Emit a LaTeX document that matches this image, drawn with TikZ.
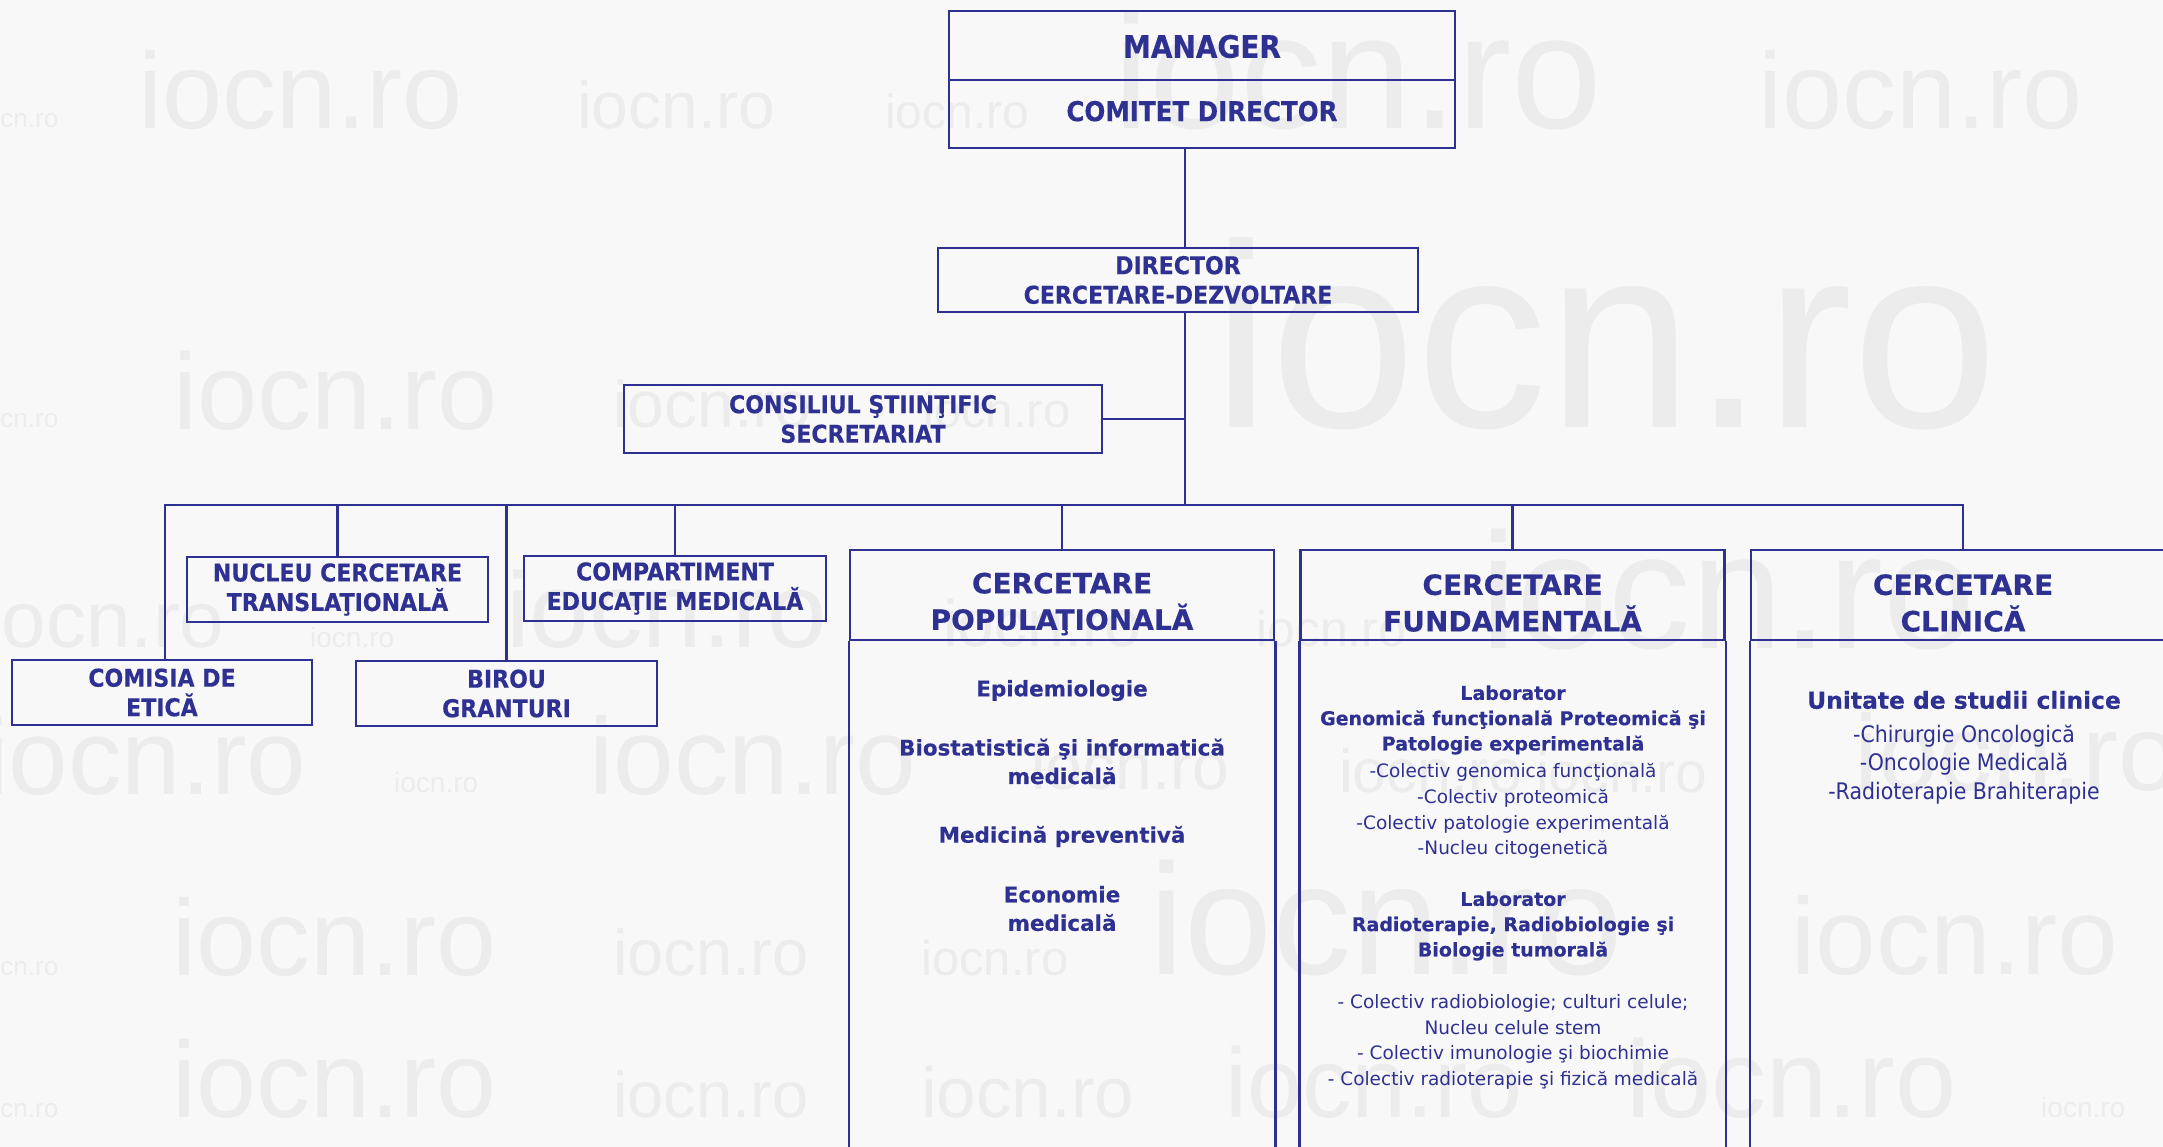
\documentclass[tikz,border=0pt]{standalone}
\usepackage{fontspec}
\setmainfont{DejaVu Sans}[BoldFeatures={FakeBold=0.3}]
\newfontfamily\tah[FakeStretch=0.9]{DejaVu Sans}
\newfontfamily\tahb[FakeStretch=0.9,BoldFeatures={FakeBold=0.4}]{DejaVu Sans}
\newfontfamily\wmf{Liberation Sans}
\definecolor{ocol}{RGB}{46,49,146}
\definecolor{bgc}{RGB}{248,248,248}
\definecolor{wmc}{RGB}{236,236,236}
\begin{document}
\begin{tikzpicture}[x=1pt,y=-1pt,
  ln/.style={draw=ocol, line width=2.5pt, line join=miter},
  sbox/.style={draw=ocol, line width=2.5pt, text=ocol, align=center, inner sep=0pt,
    font=\tahb\bfseries\fontsize{24.5}{29.5}\selectfont},
  hbox/.style={draw=ocol, line width=2.5pt, minimum width=424pt, minimum height=90pt, inner sep=0pt},
  htxt/.style={text=ocol, align=center, inner sep=0pt, font=\bfseries\fontsize{28}{36.5}\selectfont},
  ptxt/.style={text=ocol, align=center, inner sep=0pt, font=\bfseries\fontsize{21.5}{28.5}\selectfont},
  fbold/.style={text=ocol, align=center, inner sep=0pt, font=\bfseries\fontsize{19}{25.3}\selectfont},
  freg/.style={text=ocol, align=center, inner sep=0pt, font=\fontsize{18.5}{25.7}\selectfont},
  wmk/.style={text=wmc, anchor=base west, inner sep=0pt}]
\useasboundingbox (0,0) rectangle (2163,1147);
\fill[bgc] (0,0) rectangle (2163,1147);
% watermarks
\foreach \x/\y/\s [count=\i] in {
  -20/128/26, 138/129/108, 577/129/66, 885/129/48, 1113/129/163, 1758/129/108,
  -20/428/26, 173/429/108, 613/428/66, 923/428/49, 1212/428/262,
  -16/647/80, 310/647/28, 506/647/107, 943/646/66, 1256/646/50, 1480/648/165,
  -15/794/107, 394/792/28, 589/794/109, 1031/789/66, 1339/792/61, 1536/792/57, 1854/790/108,
  -20/975/26, 172/975/108, 613/975/65, 921/975/49, 1149/974/158, 1791/974/109,
  -20/1117/26, 172/1117/108, 613/1117/65, 921/1117/71, 1225/1117/99, 1626/1117/110, 2041/1117/28}
  {\node[wmk, font=\wmf\fontsize{\s}{\s}\selectfont] (wm\i) at (\x,\y) {iocn.ro};}
% top boxes
\node[sbox, minimum width=506pt, minimum height=69pt, text height=25pt, font=\tahb\bfseries\fontsize{31}{31}\selectfont] (mgr) at (1202,45.5) {MANAGER};
\node[sbox, minimum width=506pt, minimum height=68pt, text depth=6pt, font=\tahb\bfseries\fontsize{27.3}{27.3}\selectfont] (com) at (1202,114) {COMITET DIRECTOR};
\node[sbox, minimum width=480pt, minimum height=64pt] (dir) at (1178,280) {DIRECTOR\\CERCETARE-DEZVOLTARE};
\node[sbox, minimum width=478pt, minimum height=68pt] (cons) at (863,419) {CONSILIUL ŞTIINŢIFIC\\SECRETARIAT};
% small boxes
\node[sbox, minimum width=301pt, minimum height=65pt] (nuc) at (337.5,589.5) {NUCLEU CERCETARE\\TRANSLAŢIONALĂ};
\node[sbox, minimum width=302pt, minimum height=65pt] (comp) at (675,588.5) {COMPARTIMENT\\EDUCAŢIE MEDICALĂ};
\node[sbox, minimum width=300pt, minimum height=65pt] (comi) at (162,692.5) {COMISIA DE\\ETICĂ};
\node[sbox, minimum width=301pt, minimum height=65pt] (bir) at (506.5,693.5) {BIROU\\GRANTURI};
% big boxes
\node[hbox] (popH) at (1062,595) {};
\node[hbox] (fundH) at (1512.5,595) {};
\node[hbox] (cliH) at (1963,595) {};
\node[htxt] (popT) at (1062,604) {CERCETARE\\POPULAŢIONALĂ};
\node[htxt] (fundT) at (1512.5,603) {CERCETARE\\FUNDAMENTALĂ};
\node[htxt] (cliT) at (1963,603) {CERCETARE\\CLINICĂ};
\foreach \b in {popH,fundH,cliH}{
  \draw[ln] (\b.south west) -- ++(0,530);
  \draw[ln] (\b.south east) -- ++(0,530);
}
% populational content
\node[ptxt] (pep) at (1062,690.5) {Epidemiologie};
\node[ptxt] (pbio) at (1062,761.5) {Biostatistică şi informatică\\medicală};
\node[ptxt] (pmed) at (1062,836.5) {Medicină preventivă};
\node[ptxt] (peco) at (1062,908.5) {Economie\\medicală};
% fundamental content
\node[fbold] (fa) at (1513,720) {Laborator\\Genomică funcţională Proteomică şi\\Patologie experimentală};
\node[freg] (fb) at (1513,811) {-Colectiv genomica funcţională\\-Colectiv proteomică\\-Colectiv patologie experimentală\\-Nucleu citogenetică};
\node[fbold] (fc) at (1513,926) {Laborator\\Radioterapie, Radiobiologie şi\\Biologie tumorală};
\node[freg] (fd) at (1513,1042) {- Colectiv radiobiologie; culturi celule;\\Nucleu celule stem\\- Colectiv imunologie şi biochimie\\- Colectiv radioterapie şi fizică medicală};
% clinical content
\node[text=ocol, inner sep=0pt, font=\bfseries\fontsize{23.4}{28}\selectfont] (cu) at (1964,700) {Unitate de studii clinice};
\node[text=ocol, align=center, inner sep=0pt, font=\tah\fontsize{22.8}{28.5}\selectfont] (cl) at (1964,764.5) {-Chirurgie Oncologică\\-Oncologie Medicală\\-Radioterapie Brahiterapie};
% connectors
\coordinate (spine) at (1185,505);
\coordinate (bL) at (165,505);
\coordinate (bR) at (1963,505);
\draw[ln] (com.south -| spine) -- (dir.north -| spine);
\draw[ln] (dir.south -| spine) -- (spine);
\draw[ln] (cons.east) -- (cons.east -| spine);
\draw[ln] (comi.north -| bL) -- (bL) -- (bR) -- (cliH.north);
\draw[ln] (nuc.north |- bL) -- (nuc.north);
\draw[ln] (bir.north |- bL) -- (bir.north);
\draw[ln] (comp.north |- bL) -- (comp.north);
\draw[ln] (popH.north |- bL) -- (popH.north);
\draw[ln] (fundH.north |- bL) -- (fundH.north);
\end{tikzpicture}
\end{document}
